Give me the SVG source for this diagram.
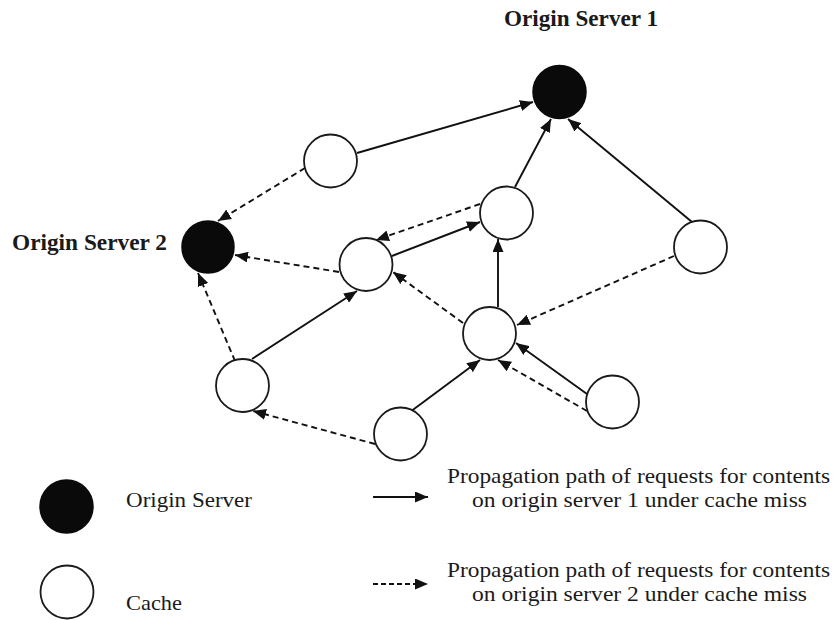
<svg xmlns="http://www.w3.org/2000/svg" width="836" height="620" viewBox="0 0 836 620">
  <style>
    .origin { fill: #0a0a0a; stroke: #0a0a0a; stroke-width: 1.5; }
    .cache { fill: #ffffff; stroke: #1a1a1a; stroke-width: 1.8; }
    .solid { stroke: #111; stroke-width: 1.9; fill: none; marker-end: url(#arrow); }
    .dashed { stroke: #111; stroke-width: 1.9; fill: none; stroke-dasharray: 6 4; marker-end: url(#arrow); }
    .title { font-family: "Liberation Serif", "Times New Roman", serif; font-weight: bold; font-size: 23px; fill: #1a1a1a; }
    .legend { font-family: "Liberation Serif", "Times New Roman", serif; font-size: 22px; fill: #1a1a1a; }
  </style>
  <defs>
    <marker id="arrow" markerUnits="userSpaceOnUse" markerWidth="13" markerHeight="11" refX="13" refY="5.5" orient="auto">
      <path d="M0,0 L13,5.5 L0,11 z" fill="#111"/>
    </marker>
  </defs>

  <rect width="836" height="620" fill="#ffffff"/>

  <!-- connectors -->
  <g id="connectors">
    <line class="solid" x1="357" y1="153" x2="533" y2="102"/>
    <line class="solid" x1="515" y1="187" x2="551" y2="119"/>
    <line class="solid" x1="692" y1="222" x2="568" y2="119"/>
    <line class="solid" x1="392" y1="256" x2="480" y2="222"/>
    <line class="solid" x1="498" y1="307" x2="498" y2="239"/>
    <line class="solid" x1="252" y1="359" x2="357" y2="291"/>
    <line class="solid" x1="410" y1="412" x2="480" y2="360"/>
    <line class="solid" x1="587" y1="394" x2="516" y2="343"/>

    <line class="dashed" x1="305" y1="168" x2="218" y2="221"/>
    <line class="dashed" x1="480" y1="204" x2="376" y2="240"/>
    <line class="dashed" x1="339" y1="272" x2="235" y2="255"/>
    <line class="dashed" x1="463" y1="323" x2="393" y2="272"/>
    <line class="dashed" x1="674" y1="256" x2="517" y2="325"/>
    <line class="dashed" x1="235" y1="361" x2="198" y2="273"/>
    <line class="dashed" x1="375" y1="444" x2="253" y2="411"/>
    <line class="dashed" x1="587" y1="411" x2="498" y2="360"/>
  </g>

  <!-- origin servers -->
  <g id="origin1">
    <circle class="origin" cx="559.5" cy="92" r="26.5"/>
    <text class="title" x="504" y="26" textLength="154" lengthAdjust="spacingAndGlyphs">Origin Server 1</text>
  </g>
  <g id="origin2">
    <circle class="origin" cx="208" cy="247" r="26"/>
    <text class="title" x="12" y="250" textLength="155" lengthAdjust="spacingAndGlyphs">Origin Server 2</text>
  </g>

  <!-- caches -->
  <g id="cache-a"><circle class="cache" cx="330.5" cy="161" r="26.5"/></g>
  <g id="cache-b"><circle class="cache" cx="366" cy="264.5" r="26.5"/></g>
  <g id="cache-c"><circle class="cache" cx="506.5" cy="213" r="26.5"/></g>
  <g id="cache-d"><circle class="cache" cx="700.5" cy="247" r="26.5"/></g>
  <g id="cache-e"><circle class="cache" cx="489.5" cy="333.5" r="26.5"/></g>
  <g id="cache-f"><circle class="cache" cx="242.5" cy="385.5" r="26.5"/></g>
  <g id="cache-g"><circle class="cache" cx="400.5" cy="434" r="26.5"/></g>
  <g id="cache-h"><circle class="cache" cx="612.5" cy="402" r="26.5"/></g>

  <!-- legend -->
  <g id="legend-origin">
    <circle class="origin" cx="66.5" cy="506.5" r="26.5"/>
    <text class="legend" x="126" y="507" textLength="126" lengthAdjust="spacingAndGlyphs">Origin Server</text>
  </g>
  <g id="legend-cache">
    <circle class="cache" cx="67" cy="592" r="26.5"/>
    <text class="legend" x="126" y="610" textLength="56" lengthAdjust="spacingAndGlyphs">Cache</text>
  </g>
  <g id="legend-solid">
    <line class="solid" x1="373" y1="497" x2="428" y2="497"/>
    <text class="legend" x="447" y="483" textLength="383" lengthAdjust="spacingAndGlyphs">Propagation path of requests for contents</text>
    <text class="legend" x="472" y="507" textLength="335" lengthAdjust="spacingAndGlyphs">on origin server 1 under cache miss</text>
  </g>
  <g id="legend-dashed">
    <line class="dashed" x1="373" y1="584" x2="428" y2="584" style="stroke-dasharray:5 3"/>
    <text class="legend" x="447" y="577" textLength="383" lengthAdjust="spacingAndGlyphs">Propagation path of requests for contents</text>
    <text class="legend" x="472" y="601" textLength="335" lengthAdjust="spacingAndGlyphs">on origin server 2 under cache miss</text>
  </g>
</svg>
